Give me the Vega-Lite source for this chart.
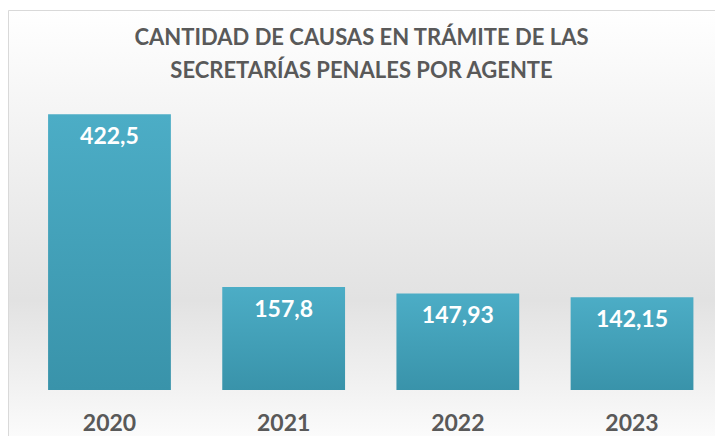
{
  "$schema": "https://vega.github.io/schema/vega-lite/v6.json",
  "width": 707,
  "height": 426,
  "autosize": {"type": "none"},
  "padding": {"left": 8, "top": 10, "right": 0, "bottom": 0},
  "background": "#ffffff",
  "config": {
    "view": {
      "stroke": "#d9d9d9",
      "strokeWidth": 1,
      "fill": {
        "gradient": "linear", "x1": 0, "y1": 0, "x2": 0, "y2": 1,
        "stops": [
          {"offset": 0, "color": "#ffffff"},
          {"offset": 0.35, "color": "#f0f0f0"},
          {"offset": 0.68, "color": "#e2e2e2"},
          {"offset": 0.9, "color": "#f3f3f3"},
          {"offset": 1, "color": "#fbfbfb"}
        ]
      }
    },
    "font": "Lato"
  },
  "title": {
    "text": ["CANTIDAD DE CAUSAS EN TRÁMITE DE LAS", "SECRETARÍAS PENALES POR AGENTE"],
    "orient": "top",
    "anchor": "middle",
    "frame": "group",
    "offset": -73,
    "font": "Lato",
    "fontSize": 22,
    "fontWeight": "bold",
    "color": "#595959",
    "lineHeight": 33,
    "baseline": "top"
  },
  "data": {
    "values": [
      {"year": "2020", "value": 422.5, "label": "422,5"},
      {"year": "2021", "value": 157.8, "label": "157,8"},
      {"year": "2022", "value": 147.93, "label": "147,93"},
      {"year": "2023", "value": 142.15, "label": "142,15"}
    ]
  },
  "encoding": {
    "x": {
      "field": "year",
      "type": "nominal",
      "sort": null,
      "scale": {"paddingInner": 0.295, "paddingOuter": 0.177, "align": 0.65},
      "axis": {
        "title": null,
        "orient": "bottom",
        "offset": -46,
        "domain": false,
        "ticks": false,
        "labelAngle": 0,
        "labelPadding": 22,
        "labelFont": "Lato",
        "labelFontSize": 23,
        "labelFontWeight": "bold",
        "labelColor": "#595959"
      }
    }
  },
  "layer": [
    {
      "mark": {
        "type": "bar",
        "color": {
          "gradient": "linear", "x1": 0, "y1": 0, "x2": 0, "y2": 1,
          "stops": [
            {"offset": 0, "color": "#4cadc6"},
            {"offset": 1, "color": "#3993aa"}
          ]
        }
      },
      "encoding": {
        "y": {
          "field": "value",
          "type": "quantitative",
          "scale": {"domain": [-70.4, 582], "nice": false, "zero": false},
          "axis": null
        },
        "y2": {"datum": 0}
      }
    },
    {
      "mark": {
        "type": "text",
        "color": "#ffffff",
        "font": "Lato",
        "fontSize": 23,
        "fontWeight": "bold",
        "baseline": "middle",
        "dy": 23
      },
      "encoding": {
        "y": {"field": "value", "type": "quantitative"},
        "text": {"field": "label", "type": "nominal"}
      }
    }
  ]
}
